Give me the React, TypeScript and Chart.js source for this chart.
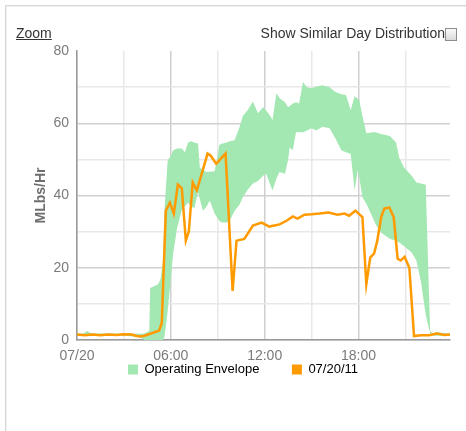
import React, { useEffect, useRef } from "react";
import { Chart, registerables } from "chart.js";

Chart.register(...registerables);

// ---- data (hours since 00:00 on 07/20/11, MLbs/Hr) ----
const orangeTimes = [0, 0.5, 1, 1.5, 2, 2.5, 3, 3.5, 3.75, 4.0, 4.25, 4.6, 5.0, 5.25, 5.42, 5.68, 5.94, 6.19, 6.45, 6.7, 6.96, 7.15, 7.4, 7.66, 8.0, 8.35, 8.55, 8.9, 9.5, 9.95, 10.2, 10.7, 11.25, 11.8, 12.3, 12.95, 13.4, 13.8, 14.1, 14.55, 15.0, 15.5, 16.1, 16.65, 17.1, 17.4, 17.8, 18.25, 18.5, 18.75, 19.0, 19.2, 19.45, 19.65, 19.97, 20.25, 20.5, 20.7, 20.95, 21.25, 21.55, 22.0, 22.5, 23.0, 23.5, 23.85];
const orangeValues = [1.5, 1.3, 1.5, 1.3, 1.5, 1.4, 1.6, 1.5, 1.2, 1.0, 1.1, 1.6, 2.2, 2.6, 4.7, 35.8, 38, 35, 43, 42, 27.5, 30, 43.6, 41.4, 46.4, 51.6, 51, 48.8, 51.6, 13.6, 27.5, 28, 31.7, 32.5, 31.4, 32, 33, 34.2, 33.6, 34.7, 34.8, 35, 35.3, 34.7, 35, 34.4, 35.8, 34, 15.5, 22.8, 24, 27.5, 34, 36.4, 36.7, 34, 22.5, 22, 23, 20, 1.1, 1.3, 1.3, 1.8, 1.4, 1.5];

const envTimes = [0, 0.4, 0.65, 0.9, 2, 3, 4.0, 4.3, 4.62, 4.68, 5.0, 5.2, 5.35, 5.5, 5.6, 5.8, 6.0, 6.15, 6.4, 6.7, 6.9, 7.1, 7.3, 7.5, 7.74, 7.85, 8.05, 8.3, 8.49, 8.8, 8.95, 9.1, 9.25, 9.55, 9.76, 10.08, 10.4, 10.6, 10.9, 11.25, 11.57, 11.9, 12.1, 12.4, 12.5, 12.75, 12.95, 13.3, 13.5, 13.6, 13.8, 14.0, 14.2, 14.45, 14.7, 15.0, 15.3, 15.7, 16.15, 16.5, 16.9, 17.2, 17.5, 17.75, 17.95, 18.05, 18.25, 18.5, 18.9, 19.1, 19.45, 20.0, 20.4, 20.6, 20.9, 21.4, 21.7, 22.0, 22.1, 22.3, 22.45, 22.58, 22.75, 23.0, 23.5, 23.85];
const envLower = [1.2, 1.2, 1.1, 1.2, 1.2, 1.2, 0.8, 0, 0, 0, 0, 0, 0, 0, 1, 8, 17, 24, 31, 36, 37, 38, 37, 36.5, 41, 39, 35.8, 37, 38.6, 35, 34, 33, 32.5, 32.5, 33, 35.8, 37.5, 39.5, 41.5, 43.3, 44, 45.5, 46, 42.5, 41.4, 44.7, 46.5, 46, 50, 53.3, 52.5, 57.5, 57.5, 57.5, 58, 58.6, 58, 59, 58.6, 56, 52.5, 52, 51.5, 41.4, 47, 45, 39.5, 37.7, 34, 32, 29.7, 28, 27.5, 27, 26, 24.2, 22, 16, 12.8, 7, 4, 2, 1.2, 1.2, 1.2, 1.2];
const envUpper = [1.8, 1.8, 2.5, 1.8, 1.8, 1.8, 1.7, 1.8, 2.5, 14.4, 15, 15.5, 17, 22, 36.7, 49.7, 51, 52.5, 53, 53, 52, 54.7, 55, 54.7, 54.4, 47.8, 47, 46.5, 46.6, 46.7, 50, 54, 54.3, 54.7, 55, 55.3, 59, 62, 63.5, 66, 62.8, 64.4, 63.5, 61.7, 60.8, 68.3, 67, 65.8, 64.4, 64.8, 65.5, 65.8, 65.5, 71.4, 70, 69.7, 70.2, 70.5, 70, 68.7, 68, 67.8, 63.6, 67.5, 66.8, 66.4, 62, 57.2, 57.5, 57.5, 57, 56.5, 54.7, 50.5, 47.8, 45.5, 43.6, 43.3, 43.2, 43, 21, 2.5, 1.9, 2.2, 1.9, 1.9];

const xTickValues = [0, 3, 6, 9, 12, 15, 18, 21];
const xTickLabels: Record<number, string> = { 0: "07/20", 6: "06:00", 12: "12:00", 18: "18:00" };
const yTickValues = [0, 10, 20, 30, 40, 50, 60, 70, 80];

const seriesNames = ["07/20/11", "Operating Envelope"];
const GREEN = "rgb(163,231,178)";
const ORANGE = "#ff9a00";
const FONT = "'Liberation Sans', Arial, sans-serif";

const legendShift = {
  id: "legendShift",
  afterLayout(chart: any) {
    if (chart.legend) {
      chart.legend.left += 3;
      chart.legend.right += 3;
    }
  },
};

function App() {
  const ref = useRef<HTMLCanvasElement | null>(null);
  useEffect(() => {
    if (!ref.current) return;
    const chart = new Chart(ref.current, {
      type: "line",
      plugins: [legendShift],
      data: {
        datasets: [
          {
            label: seriesNames[0],
            data: orangeTimes.map((t, i) => ({ x: t, y: orangeValues[i] })),
            borderColor: ORANGE,
            backgroundColor: ORANGE,
            borderWidth: 2.5,
            pointRadius: 0,
            tension: 0,
            fill: false,
          },
          {
            label: seriesNames[1],
            data: envTimes.map((t, i) => ({ x: t, y: envUpper[i] })),
            borderColor: GREEN,
            backgroundColor: GREEN,
            borderWidth: 0,
            pointRadius: 0,
            tension: 0,
            fill: "+1",
          },
          {
            label: "lower",
            data: envTimes.map((t, i) => ({ x: t, y: envLower[i] })),
            borderColor: GREEN,
            backgroundColor: GREEN,
            borderWidth: 0,
            pointRadius: 0,
            tension: 0,
            fill: false,
          },
        ],
      },
      options: {
        responsive: false,
        animation: false,
        devicePixelRatio: 1,
        layout: { padding: { top: 51, left: 30, right: 16, bottom: 6 } },
        plugins: {
          tooltip: { enabled: false },
          legend: {
            position: "bottom",
            labels: {
              boxWidth: 10,
              boxHeight: 10,
              padding: 0,
              color: "#7a7a7a",
              font: { family: FONT, size: 13 },
              generateLabels: () => [
                { text: seriesNames[1] + "\u2002\u2002\u2002\u2002\u2002", fillStyle: GREEN, strokeStyle: GREEN, lineWidth: 0, datasetIndex: 1, hidden: false },
                { text: seriesNames[0], fillStyle: ORANGE, strokeStyle: ORANGE, lineWidth: 0, datasetIndex: 0, hidden: false },
              ],
            },
          },
        },
        scales: {
          x: {
            type: "linear",
            min: 0,
            max: 23.85,
            afterBuildTicks: (s: any) => {
              s.ticks = xTickValues.map((v) => ({ value: v }));
            },
            afterFit: (s: any) => {
              s.height = 23;
            },
            ticks: {
              autoSkip: false,
              maxRotation: 0,
              padding: 8,
              color: "#7a7a7a",
              font: { family: FONT, size: 14 },
              callback: (v: any) => xTickLabels[v as number] ?? "",
            },
            grid: {
              drawTicks: false,
              color: (c: any) => (c.tick && c.tick.value % 6 === 0 ? "#d0d0d0" : "#e8e8e8"),
              lineWidth: 1.5,
            },
            border: { color: "#999999", width: 1.5 },
          },
          y: {
            min: 0,
            max: 80,
            afterBuildTicks: (s: any) => {
              s.ticks = yTickValues.map((v) => ({ value: v }));
            },
            afterFit: (s: any) => {
              s.width = 47;
            },
            ticks: {
              padding: 8,
              color: "#7a7a7a",
              font: { family: FONT, size: 14 },
              callback: (v: any) => ((v as number) % 20 === 0 ? String(v) : ""),
            },
            grid: {
              drawTicks: false,
              color: (c: any) =>
                c.tick && c.tick.value === 80 ? "rgba(0,0,0,0)" : c.tick && c.tick.value % 20 === 0 ? "#d0d0d0" : "#e8e8e8",
              lineWidth: 1.5,
            },
            border: { color: "#999999", width: 1.5 },
            title: {
              display: true,
              text: "MLbs/Hr",
              color: "#6e6e6e",
              padding: { top: 3, bottom: 0 },
              font: { family: FONT, size: 14, weight: "bold" },
            },
          },
        },
      },
    });
    return () => chart.destroy();
  }, []);

  return (
    <div style={{ position: "absolute", left: 0, top: 0, width: 466, height: 431, overflow: "hidden", background: "#fff" }}>
      <div
        style={{
          position: "absolute",
          left: 5,
          top: 5,
          width: 480,
          height: 450,
          borderLeft: "1px solid #d6d6d6",
          borderTop: "1px solid #d6d6d6",
          boxShadow: "inset 1px 1px 0 #f0f0f0",
        }}
      />
      <canvas ref={ref} width={466} height={392} style={{ position: "absolute", left: 0, top: 0, width: 466, height: 392 }} />
      <div
        style={{
          position: "absolute",
          left: 16,
          top: 25,
          font: `14px ${FONT}`,
          lineHeight: "16px",
          color: "#333",
          textDecoration: "underline",
        }}
      >
        Zoom
      </div>
      <div
        style={{
          position: "absolute",
          right: 21,
          top: 25,
          font: `14px ${FONT}`,
          lineHeight: "16px",
          color: "#333",
          whiteSpace: "nowrap",
        }}
      >
        Show Similar Day Distribution
      </div>
      <div
        style={{
          position: "absolute",
          left: 445,
          top: 28,
          width: 10,
          height: 11,
          border: "1px solid #8c8c8c",
          background: "linear-gradient(#fafafa, #dadada)",
        }}
      />
    </div>
  );
}

export default App;
